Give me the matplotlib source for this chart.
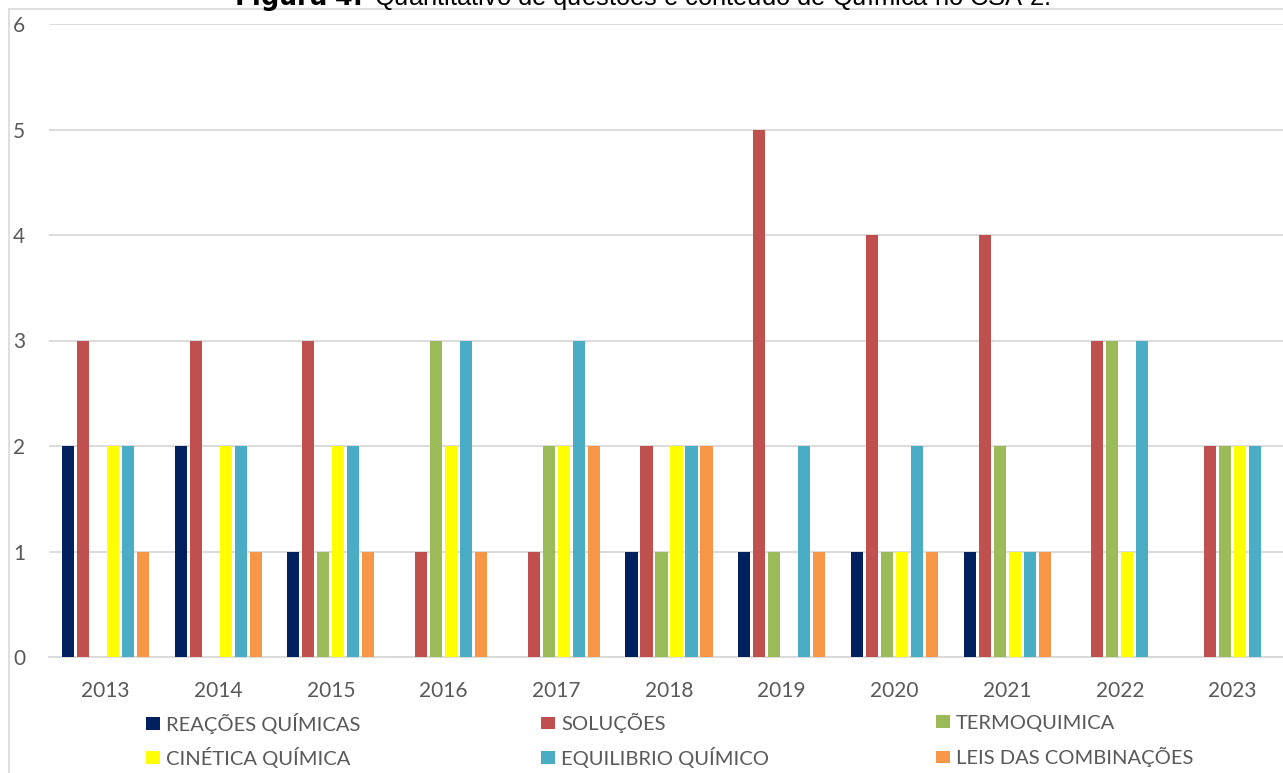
import matplotlib.pyplot as plt
from matplotlib.patches import Rectangle
import numpy as np

plt.rcParams['font.family'] = ['Lato', 'DejaVu Sans']

# Daten
anos = ['2013', '2014', '2015', '2016', '2017', '2018', '2019', '2020', '2021', '2022', '2023']
series = ['REAÇÕES QUÍMICAS', 'SOLUÇÕES', 'TERMOQUIMICA',
          'CINÉTICA QUÍMICA', 'EQUILIBRIO QUÍMICO', 'LEIS DAS COMBINAÇÕES']
reacoes = [2, 2, 1, 0, 0, 1, 1, 1, 1, 0, 0]
solucoes = [3, 3, 3, 1, 1, 2, 5, 4, 4, 3, 2]
termoquimica = [0, 0, 1, 3, 2, 1, 1, 1, 2, 3, 2]
cinetica = [2, 2, 2, 2, 2, 2, 0, 1, 1, 1, 2]
equilibrio = [2, 2, 2, 3, 3, 2, 2, 2, 1, 3, 2]
leis = [1, 1, 1, 1, 2, 2, 1, 1, 1, 0, 0]

valores = [reacoes, solucoes, termoquimica, cinetica, equilibrio, leis]
cores = ['#002060', '#C0504D', '#9BBB59', '#FFFF00', '#4BACC6', '#F79646']

W, H = 1283, 773
fig = plt.figure(figsize=(W / 100, H / 100), dpi=100)
ax = fig.add_axes([49 / W, 1 - 657 / H, 1240 / W, (657 - 24) / H])

x = np.arange(len(anos))
passo = 0.133
largura = 0.107
barras = []
for i, (nome, vals, cor) in enumerate(zip(series, valores, cores)):
    b = ax.bar(x + (i - 2.5) * passo, vals, largura, color=cor, label=nome, zorder=3)
    barras.append(b)

ax.set_xlim(-0.5, 10.5)
ax.set_ylim(0, 6)
ax.set_xticks(x)
ax.set_xticklabels(anos)
ax.set_yticks(range(7))
ax.grid(axis='y', color='#d9d9d9', linewidth=1.3, zorder=0)
for s in ['top', 'right', 'left']:
    ax.spines[s].set_visible(False)
ax.spines['bottom'].set_color('#d9d9d9')
ax.spines['bottom'].set_linewidth(1.3)
ax.tick_params(axis='both', length=0, labelsize=15, labelcolor='#595959')
ax.tick_params(axis='y', pad=17)
ax.tick_params(axis='x', pad=17.5)

# Legende: jeder Eintrag einzeln positioniert (3 Spalten x 2 Zeilen)
marker_x = [146, 541, 936]
zeilen_y = [723, 757]
for k, (b, nome) in enumerate(zip(barras, series)):
    col, row = k % 3, k // 3
    leg = fig.legend([b], [nome], loc='center left',
                     bbox_to_anchor=(marker_x[col] / W, 1 - zeilen_y[row] / H),
                     frameon=False, fontsize=14.5, handlelength=0.7, handleheight=0.6,
                     handletextpad=0.3, borderpad=0, borderaxespad=0)
    for t in leg.get_texts():
        t.set_color('#595959')

# Rahmen des Diagrammbereichs
fig.patches.append(Rectangle((9 / W, -0.05), 1.1, 1 - 9 / H + 0.05,
                             transform=fig.transFigure, fill=False,
                             edgecolor='#d9d9d9', linewidth=1.2, zorder=0))

# Titel (oben abgeschnitten wie im Original)
fig.text(0.5, 1 - 5 / H, r'$\bf{Figura\ 4.}$ Quantitativo de questões e conteúdo de Química no CSA 2.',
         ha='center', va='baseline', fontsize=18.4, family='Liberation Sans')

plt.savefig('out.png', dpi=100)
